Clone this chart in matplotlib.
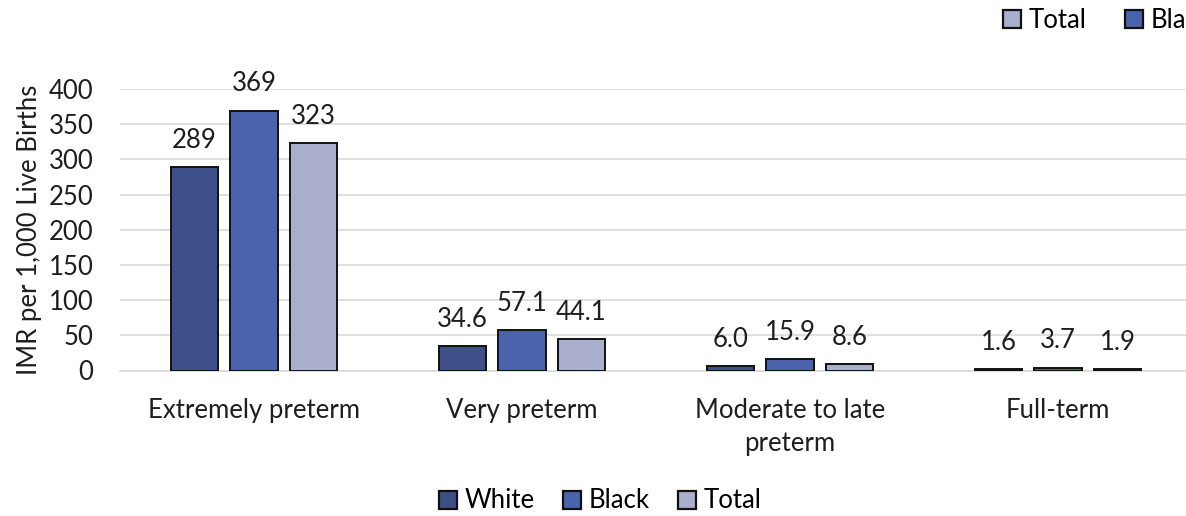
import matplotlib
matplotlib.use("Agg")
import matplotlib.pyplot as plt
import numpy as np
from matplotlib.patches import Patch

categories = ["Extremely preterm", "Very preterm", "Moderate to late\npreterm", "Full-term"]
series_names = ["White", "Black", "Total"]
white = [289, 34.6, 6.0, 1.6]
black = [369, 57.1, 15.9, 3.7]
total = [323, 44.1, 8.6, 1.9]
labels_white = ["289", "34.6", "6.0", "1.6"]
labels_black = ["369", "57.1", "15.9", "3.7"]
labels_total = ["323", "44.1", "8.6", "1.9"]
colors = ["#3E5089", "#4A63AC", "#A8AECC"]
yticks = [0, 50, 100, 150, 200, 250, 300, 350, 400]

plt.rcParams['font.family'] = ['Lato', 'DejaVu Sans']
FS = 18.5
TXT = "#1e1e1e"

W, H = 1186, 516
fig = plt.figure(figsize=(W / 100, H / 100), dpi=100)
left, right = 120, 1192
y0px, y400px = 370.5, 89
ax = fig.add_axes([left / W, 1 - y0px / H, (right - left) / W, (y0px - y400px) / H])
ax.set_ylim(0, 400)
ax.set_xlim(-0.5, 3.5)

x = np.arange(len(categories))
bw = 0.179
step = 0.222
for i, (vals, labs) in enumerate(zip([white, black, total], [labels_white, labels_black, labels_total])):
    bars = ax.bar(x + (i - 1) * step, vals, width=bw, color=colors[i], edgecolor="#111111",
                  linewidth=1.4, label=series_names[i], zorder=3)
    for b, lab in zip(bars, labs):
        ax.annotate(lab, (b.get_x() + b.get_width() / 2, b.get_height()), xytext=(0, 14),
                    textcoords="offset points", ha="center", va="baseline",
                    fontsize=FS, color=TXT)

ax.set_yticks(yticks)
ax.set_yticklabels([str(t) for t in yticks], fontsize=FS, color=TXT)
ax.yaxis.grid(True, color="#d9d9d9", linewidth=1.2, zorder=0)
ax.set_axisbelow(True)
for s in ["top", "right", "left"]:
    ax.spines[s].set_visible(False)
ax.spines["bottom"].set_color("#d9d9d9")
ax.spines["bottom"].set_linewidth(1.2)
ax.tick_params(axis="y", length=0, pad=19)
ax.tick_params(axis="x", length=0, pad=20)
ax.set_xticks(x)
ax.set_xticklabels(categories, fontsize=FS, color=TXT, linespacing=1.4)
ax.set_ylabel("IMR per 1,000 Live Births", fontsize=FS, color=TXT, labelpad=5)

handles = [Patch(facecolor=c, edgecolor="#111111", linewidth=1.6) for c in colors]
fig.legend(handles, series_names, loc="center", bbox_to_anchor=(600 / W, 1 - 501 / H), ncol=3,
           frameon=False, fontsize=FS, handlelength=0.7, handleheight=0.7, handletextpad=0.3,
           columnspacing=1.1)

# cropped top-right legend (partially outside the image, as in the reference)
order = [2, 1, 0]
fig.legend([handles[i] for i in order], [series_names[i] for i in order], loc="center left",
           bbox_to_anchor=(980 / W, 1 - 20 / H), ncol=3, frameon=False, fontsize=FS,
           handlelength=0.7, handleheight=0.7, handletextpad=0.3, columnspacing=1.5)

fig.savefig("out.png", dpi=100)
